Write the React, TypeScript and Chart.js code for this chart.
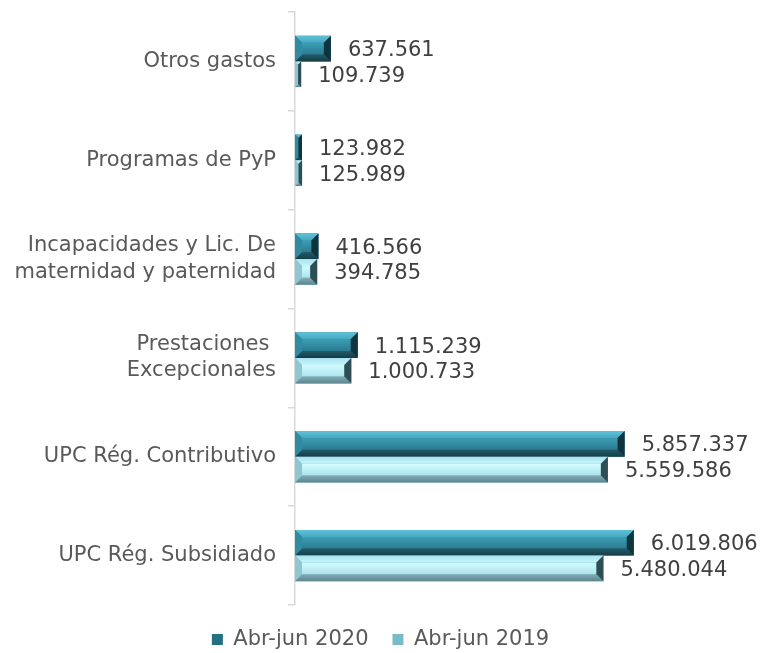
import React, { useEffect, useRef } from "react";
import { Chart, registerables } from "chart.js";

Chart.register(...registerables);

const categories: (string | string[])[] = [
  "Otros gastos",
  "Programas de PyP",
  ["Incapacidades y Lic. De", "maternidad y paternidad"],
  ["Prestaciones ", "Excepcionales"],
  "UPC Rég. Contributivo",
  "UPC Rég. Subsidiado",
];
const seriesNames = ["Abr-jun 2020", "Abr-jun 2019"];
const values2020 = [637561, 123982, 416566, 1115239, 5857337, 6019806];
const values2019 = [109739, 125989, 394785, 1000733, 5559586, 5480044];

const FONT = '"DejaVu Sans", Verdana, sans-serif';

type Pal = { top: [string, string]; mid: [string, string]; bot: [string, string]; left: string; right: string };
const palettes: Pal[] = [
  { top: ["#5fc2d9", "#45a8c0"], mid: ["#3c9db5", "#2b7b8f"], bot: ["#235b69", "#153d47"], left: "#2f8ba1", right: "#0e343d" },
  { top: ["#a8e2ee", "#c6f6fc"], mid: ["#d2fcff", "#ade3ec"], bot: ["#84adb6", "#5b858e"], left: "#8ec6d1", right: "#2e4e55" },
];

const fmt = (n: number) => n.toString().replace(/\B(?=(\d{3})+(?!\d))/g, ".");

const bevelPlugin = {
  id: "bevel",
  afterDatasetsDraw(chart: any) {
    const ctx = chart.ctx;
    chart.data.datasets.forEach((ds: any, di: number) => {
      const meta = chart.getDatasetMeta(di);
      const pal = palettes[di];
      meta.data.forEach((bar: any, i: number) => {
        const p = bar.getProps(["x", "y", "base", "height"], true);
        const l = Math.min(p.base, p.x);
        const r = Math.max(p.base, p.x);
        const t = p.y - p.height / 2;
        const b = p.y + p.height / 2;
        const w = r - l;
        const bv = Math.min(7, w / 2, p.height / 2);
        ctx.save();
        let g = ctx.createLinearGradient(0, t + bv, 0, b - bv);
        g.addColorStop(0, pal.mid[0]);
        g.addColorStop(1, pal.mid[1]);
        ctx.fillStyle = g;
        ctx.fillRect(l + bv, t + bv, w - 2 * bv, p.height - 2 * bv);
        g = ctx.createLinearGradient(0, t, 0, t + bv);
        g.addColorStop(0, pal.top[0]);
        g.addColorStop(1, pal.top[1]);
        ctx.fillStyle = g;
        ctx.beginPath();
        ctx.moveTo(l, t); ctx.lineTo(r, t); ctx.lineTo(r - bv, t + bv); ctx.lineTo(l + bv, t + bv); ctx.closePath();
        ctx.fill();
        g = ctx.createLinearGradient(0, b - bv, 0, b);
        g.addColorStop(0, pal.bot[0]);
        g.addColorStop(1, pal.bot[1]);
        ctx.fillStyle = g;
        ctx.beginPath();
        ctx.moveTo(l, b); ctx.lineTo(r, b); ctx.lineTo(r - bv, b - bv); ctx.lineTo(l + bv, b - bv); ctx.closePath();
        ctx.fill();
        ctx.fillStyle = pal.left;
        ctx.beginPath();
        ctx.moveTo(l, t); ctx.lineTo(l + bv, t + bv); ctx.lineTo(l + bv, b - bv); ctx.lineTo(l, b); ctx.closePath();
        ctx.fill();
        ctx.fillStyle = pal.right;
        ctx.beginPath();
        ctx.moveTo(r, t); ctx.lineTo(r - bv, t + bv); ctx.lineTo(r - bv, b - bv); ctx.lineTo(r, b); ctx.closePath();
        ctx.fill();
        ctx.fillStyle = "#404040";
        ctx.font = "21px " + FONT;
        ctx.textAlign = "left";
        ctx.textBaseline = "middle";
        ctx.fillText(fmt(ds.data[i]), r + 17, p.y + 2);
        ctx.restore();
      });
    });
  },
};

export default function App() {
  const ref = useRef<HTMLCanvasElement>(null);
  useEffect(() => {
    if (!ref.current) return;
    const chart = new Chart(ref.current, {
      type: "bar",
      data: {
        labels: categories,
        datasets: [
          { label: seriesNames[0], data: values2020, backgroundColor: "#236f84", borderWidth: 0 },
          { label: seriesNames[1], data: values2019, backgroundColor: "#78bccb", borderWidth: 0 },
        ],
      },
      options: {
        indexAxis: "y",
        animation: false,
        responsive: true,
        maintainAspectRatio: false,
        layout: { padding: { left: 0, right: 0, top: 12, bottom: -7 } },
        datasets: { bar: { categoryPercentage: 0.52, barPercentage: 1 } },
        scales: {
          x: { display: false, min: 0, max: 8280000 },
          y: {
            afterFit: (s: any) => { s.width = 295; s.paddingTop = 0; s.paddingBottom = 0; },
            grid: { display: true, drawOnChartArea: false, drawTicks: true, tickLength: 7, color: "#d9d9d9", offset: true, lineWidth: 1.5 },
            border: { display: true, color: "#d9d9d9", width: 1.5 },
            ticks: { padding: 12, color: "#595959", font: { family: FONT, size: 21, lineHeight: 1.25 } },
          },
        },
        plugins: {
          tooltip: { enabled: false },
          legend: {
            position: "bottom",
            labels: { boxWidth: 11, boxHeight: 11, padding: 24, color: "#595959", font: { family: FONT, size: 21 } },
          },
        },
      },
      plugins: [bevelPlugin],
    } as any);
    return () => chart.destroy();
  }, []);
  return (
    <div style={{ position: "fixed", left: 0, top: 0, width: 761, height: 653, background: "#fff" }}>
      <canvas ref={ref} />
    </div>
  );
}
